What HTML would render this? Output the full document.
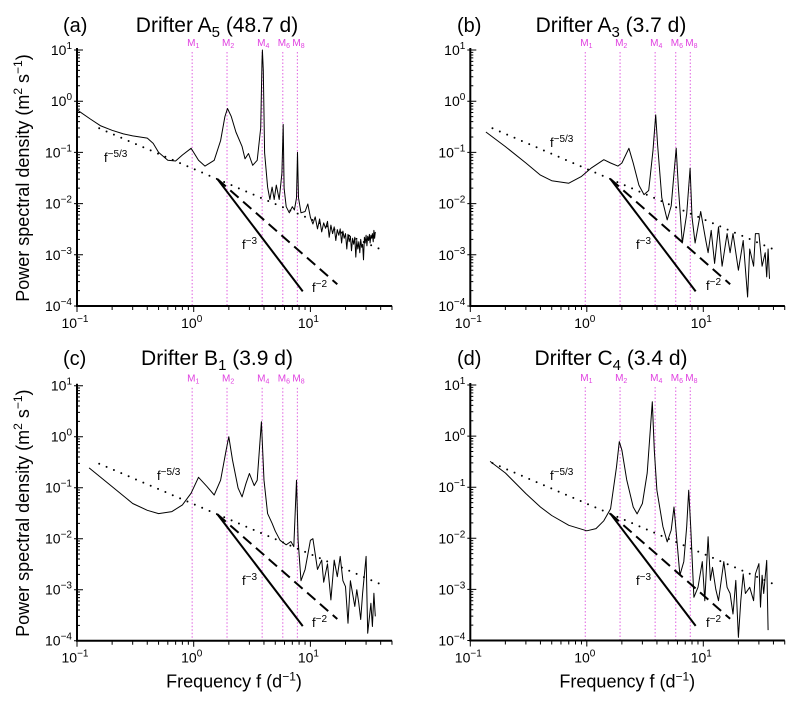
<!DOCTYPE html>
<html><head><meta charset="utf-8"><style>
html,body{margin:0;padding:0;background:#fff}
svg{display:block;font-family:"Liberation Sans",sans-serif}
</style></head><body>
<svg id="fig" width="799" height="705" viewBox="0 0 799 705"></svg>
<script>
// ---- data (frequency in cpd, PSD in m^2 s^-1) ----
const fa = [0.1,0.13,0.16,0.2,0.25,0.3,0.4,0.45,0.5,0.6,0.7,0.8,0.95,1.1,1.25,1.5,1.7,1.85,1.95,2.1,2.3,2.6,2.75,2.95,3.2,3.5,3.75,3.85,3.88,3.95,4.05,4.3,4.5,4.7,4.9,5.1,5.4,5.7,5.85,5.95,6.2,6.6,7.0,7.3,7.6,7.75,7.9,8.3,9,9.5,10,
 10.5,11,11.5,12,12.5,13,13.5,14,14.5,15,15.5,16,16.5,17,17.5,18,18.5,19,19.5,20,20.5,21,21.5,22,22.5,23,23.5,24,24.5,25,25.5,26,26.5,27,27.5,28,28.5,29,29.5,30,30.5,31,31.5,32,32.5,33,33.5,34,34.5,35,35.5,36];
const pa = [0.68,0.45,0.33,0.27,0.23,0.21,0.19,0.15,0.10,0.07,0.068,0.089,0.12,0.07,0.054,0.07,0.17,0.5,0.72,0.5,0.25,0.13,0.075,0.095,0.056,0.07,0.3,6,10,4,0.098,0.021,0.012,0.021,0.012,0.023,0.012,0.039,0.35,0.02,0.0087,0.0066,0.0087,0.0075,0.013,0.1,0.013,0.0066,0.007,0.0098,0.0054,
 0.004,0.0055,0.0032,0.005,0.0028,0.0042,0.0033,0.0045,0.0022,0.0038,0.0026,0.0035,0.0019,0.0031,0.0024,0.0032,0.0017,0.0029,0.0021,0.0026,0.0013,0.0025,0.0018,0.0023,0.0012,0.0021,0.0016,0.0022,0.0009,0.0019,0.0013,0.0018,0.0011,0.002,0.0014,0.0016,0.0008,0.0022,0.0017,0.0024,0.0015,0.0023,0.0019,0.0025,0.0017,0.0024,0.0021,0.0026,0.0018,0.003,0.0021,0.0028];
const fb = [0.136,0.2,0.3,0.4,0.5,0.7,0.9,1.1,1.4,1.6,1.85,2.0,2.3,2.5,2.8,3.1,3.4,3.7,3.9,4.05,4.4,4.9,5.3,5.6,5.85,6.1,6.6,7.2,7.7,8.0,8.5,9.5,10.5,11,11.7,12.5,13.5,14.5,16,17,18,20,22,24,25,27,28,30,32,34,35,36,37];
const pb = [0.25,0.13,0.062,0.036,0.028,0.025,0.034,0.05,0.072,0.062,0.054,0.062,0.12,0.062,0.023,0.015,0.018,0.11,0.54,0.14,0.013,0.0048,0.009,0.039,0.12,0.022,0.0017,0.0063,0.049,0.0055,0.0017,0.007,0.0019,0.0011,0.003,0.00068,0.0035,0.0006,0.0026,0.0011,0.0026,0.0005,0.0019,0.00015,0.0013,0.0006,0.0026,0.0026,0.0006,0.0011,0.00037,0.0013,0.00034];
const fc = [0.127,0.2,0.3,0.4,0.5,0.65,0.8,0.95,1.1,1.3,1.5,1.7,1.9,2.0,2.15,2.4,2.6,2.8,3.0,3.3,3.5,3.8,4.0,4.3,4.7,5.0,5.5,6.2,6.8,7.2,7.6,7.85,8.3,9,10,10.5,11.5,12.5,13,14,15,16,17,18,19,20,21,22,24,25,26,27,28,30,31,33,34,35,36];
const pc = [0.245,0.105,0.049,0.036,0.031,0.034,0.046,0.078,0.16,0.105,0.072,0.14,0.55,1.0,0.35,0.098,0.066,0.12,0.19,0.11,0.14,1.96,0.14,0.031,0.02,0.014,0.0093,0.0076,0.0088,0.007,0.14,0.0093,0.0015,0.0025,0.0093,0.01,0.0025,0.0038,0.0014,0.0032,0.00063,0.0038,0.0018,0.0045,0.0015,0.00115,0.00022,0.0015,0.00047,0.001,0.00054,0.00026,0.00085,0.0045,0.00014,0.00054,0.00019,0.00085,0.0003];
const fd = [0.148,0.2,0.3,0.4,0.5,0.7,1.0,1.2,1.4,1.6,1.8,1.9,2.0,2.2,2.5,2.7,3.0,3.3,3.65,3.8,4.0,4.5,4.9,5.3,5.6,5.8,6.3,6.8,7.2,7.5,7.8,8.3,9,9.8,10.3,11,11.5,12,12.8,13.5,15,16,17,18,19,20,21,22,23,25,27,28,30,31,32,33,35,36];
const pd = [0.32,0.19,0.075,0.041,0.028,0.018,0.014,0.0155,0.022,0.038,0.25,0.78,0.53,0.14,0.041,0.03,0.048,0.19,4.7,0.53,0.087,0.017,0.0085,0.0145,0.041,0.017,0.0019,0.0035,0.017,0.087,0.017,0.0007,0.0011,0.0035,0.0006,0.0107,0.0015,0.0027,0.001,0.0006,0.0035,0.0011,0.00083,0.00033,0.0015,0.000115,0.0006,0.002,0.00083,0.0011,0.0006,0.002,0.0032,0.00045,0.0019,0.00083,0.0037,0.00016];
const tidalFreqs = [0.97,1.93,3.86,5.8,7.73];
const tidalNames = ["1","2","4","6","8"];
const yDecades = [1,0,-1,-2,-3,-4];
const xDecades = [-1,0,1];
const panelLetters = ["(a)","(b)","(c)","(d)"];
const drifterNames = ["A","A","B","C"];
const drifterSubs = ["5","3","1","4"];
const durations = ["(48.7 d)","(3.7 d)","(3.9 d)","(3.4 d)"];

const NS="http://www.w3.org/2000/svg";
const svg=document.getElementById('fig');
function mk(tag,attrs,parent){const e=document.createElementNS(NS,tag);for(const k in attrs)e.setAttribute(k,attrs[k]);(parent||svg).appendChild(e);return e;}

const panels=[
 {x0:77,xd:116.7,y0:50,yd:51.2,f:fa,p:pa,t:[63,32],lab:[[104,162],[242,249],[312,292]],show:{y:true,x:false}},
 {x0:470.3,xd:116.5,y0:50,yd:51.2,f:fb,p:pb,t:[457,32],lab:[[550,147],[636,249],[706,290]],show:{y:false,x:false}},
 {x0:77,xd:116.7,y0:385.7,yd:51,f:fc,p:pc,t:[63,365],lab:[[157,480],[242,585],[312,627]],show:{y:true,x:true}},
 {x0:470.3,xd:116.5,y0:385,yd:51.1,f:fd,p:pd,t:[457,365],lab:[[550,480],[636,585],[706,627]],show:{y:false,x:true}}
];

panels.forEach((P,i)=>{
 const g=mk('g',{});
 
 
 const X=f=>P.x0+P.xd*(Math.log10(f)+1);
 const Y=v=>P.y0+P.yd*(1-Math.log10(v));
 const xEnd=P.x0+P.xd*2.7, yBot=Y(1e-4);
 tidalFreqs.forEach((tf,j)=>{
  const l=mk('line',{x1:X(tf),x2:X(tf),y1:P.y0+2,y2:yBot,stroke:'#e060e0','stroke-width':1,'stroke-dasharray':'1.5 2'},g);
  
  
  const t=mk('text',{x:X(tf)-5,y:P.y0-4,'font-size':10,fill:'#e040e0'},g);
  
  
  t.innerHTML='M<tspan font-size="7" dy="2">'+tidalNames[j]+'</tspan>';
 });
 const ref=(e,f1,f2)=>[X(f1),Y(0.03*Math.pow(f1/1.6,e)),X(f2),Y(0.03*Math.pow(f2/1.6,e))];
 let r=ref(-0.98,0.155,43);
 let l=mk('line',{x1:r[0],y1:r[1],x2:r[2],y2:r[3],stroke:'#000','stroke-width':2,'stroke-linecap':'round','stroke-dasharray':'0 8'},g);
 
 
 r=ref(-2,1.6,17);
 l=mk('line',{x1:r[0],y1:r[1],x2:r[2],y2:r[3],stroke:'#000','stroke-width':2,'stroke-dasharray':'11 6'},g);
 
 
 r=ref(-3,1.6,8.6);
 l=mk('line',{x1:r[0],y1:r[1],x2:r[2],y2:r[3],stroke:'#000','stroke-width':2},g);
 
 
 const pts=P.f.map((f,k)=>X(f).toFixed(1)+','+Y(P.p[k]).toFixed(1)).join(' ');
 const pl=mk('polyline',{points:pts,fill:'none',stroke:'#000','stroke-width':1,'stroke-linejoin':'round'},g);
 
 
 const labs=['\u22125/3','\u22123','\u22122'];
 const lnames=['label-f-5-3','label-f-3','label-f-2'];
 P.lab.forEach((q,j)=>{
  const t=mk('text',{x:q[0],y:q[1],'font-size':13,fill:'#000'},g);
  
  
  t.innerHTML='f<tspan font-size="10" dy="-5">'+labs[j]+'</tspan>';
 });
 const ax=mk('path',{d:`M${P.x0},${P.y0-2} L${P.x0},${yBot} L${xEnd},${yBot}`,fill:'none',stroke:'#000','stroke-width':2},g);
 
 
 let tk='';
 yDecades.forEach(d=>{
  const y=Y(Math.pow(10,d)); tk+=`M${P.x0-3},${y}h9`;
  if(d>-4)for(let m=2;m<10;m++){const yy=Y(m*Math.pow(10,d-1));tk+=`M${P.x0},${yy}h3`;}
  const t=mk('text',{x:P.x0-5,y:y+5,'font-size':14,'text-anchor':'end',fill:'#000'},g);
  
  
  t.innerHTML='10<tspan font-size="10" dy="-6">'+(d<0?'\u2212'+(-d):d)+'</tspan>';
 });
 for(let d=-1;d<=1;d++){for(let m=1;m<10;m++){const f=m*Math.pow(10,d);const x=X(f);if(x>xEnd)break;tk+=`M${x},${yBot}v${m==1?6:4}`;}}
 const tp=mk('path',{d:tk,stroke:'#000','stroke-width':1,fill:'none'},g);
 
 
 xDecades.forEach(d=>{
  const t=mk('text',{x:X(Math.pow(10,d))-2,y:yBot+22,'font-size':14,'text-anchor':'middle',fill:'#000'},g);
  
  
  t.innerHTML='10<tspan font-size="10" dy="-6">'+(d<0?'\u2212'+(-d):d)+'</tspan>';
 });
 let t=mk('text',{x:P.t[0],y:P.t[1],'font-size':20,fill:'#000'},g);
 
 
 t.textContent=panelLetters[i];
 t=mk('text',{x:P.t[0]+154,y:P.t[1],'font-size':21,'text-anchor':'middle',fill:'#000'},g);
 
 
 t.innerHTML='Drifter '+drifterNames[i]+'<tspan font-size="15" dy="5">'+drifterSubs[i]+'</tspan><tspan dy="-5"> '+durations[i]+'</tspan>';
 if(P.show.y){
  const cy=(P.y0+yBot)/2;
  t=mk('text',{x:0,y:0,'font-size':18,'text-anchor':'middle',fill:'#000',transform:`translate(29,${cy}) rotate(-90)`},g);
  
  
  t.innerHTML='Power  spectral density (m<tspan font-size="12" dy="-7">2</tspan><tspan dy="7"> s</tspan><tspan font-size="12" dy="-7">\u22121</tspan><tspan dy="7">)</tspan>';
 }
 if(P.show.x){
  t=mk('text',{x:P.x0+157,y:yBot+47,'font-size':18,'text-anchor':'middle',fill:'#000'},g);
  
  
  t.innerHTML='Frequency f (d<tspan font-size="12" dy="-7">\u22121</tspan><tspan dy="7">)</tspan>';
 }
});
</script>
</body></html>
